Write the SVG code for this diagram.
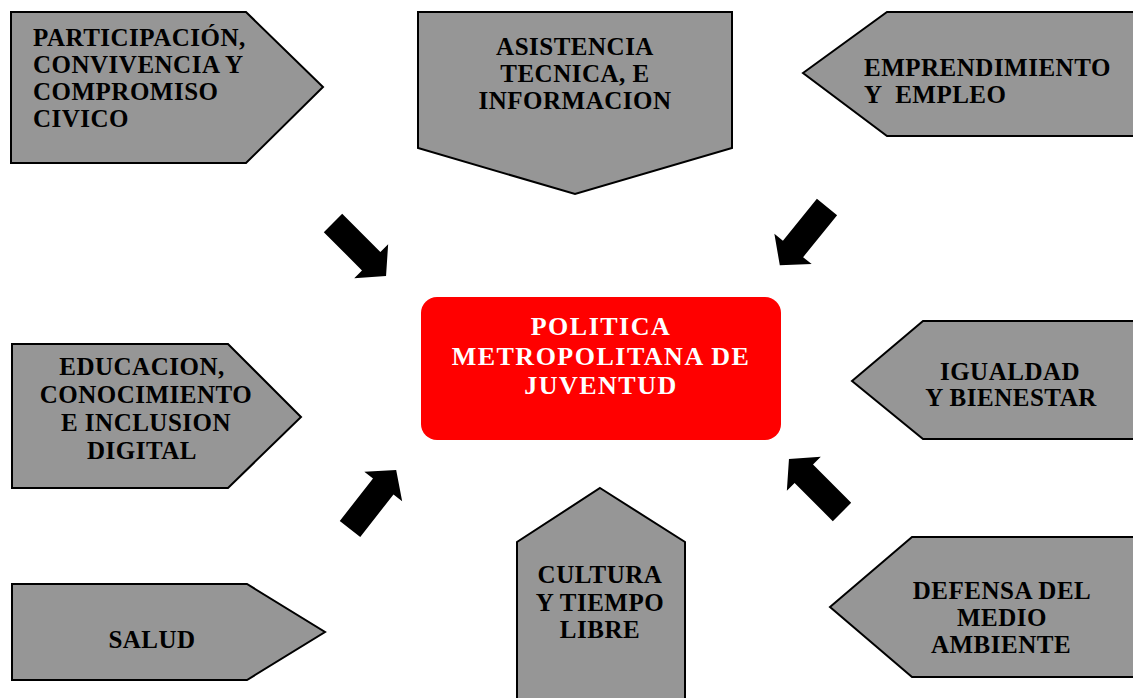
<svg xmlns="http://www.w3.org/2000/svg" width="1133" height="698" viewBox="0 0 1133 698">
<style>
.box{fill:#969696;stroke:#000;stroke-width:2;stroke-linejoin:miter}
.t{font-family:"Liberation Serif","Times New Roman",serif;font-weight:bold;font-size:25px;fill:#000;letter-spacing:0.5px}
.c{text-anchor:middle}
.w{fill:#fff;font-size:26px;letter-spacing:1.5px}
.arr{fill:#000}
</style>
<defs>
<polygon id="blk" points="0,-13 54,-13 54,-24 75,0 54,24 54,13 0,13"/>
</defs>
<rect width="1133" height="698" fill="#fff"/>
<g id="participacion">
<polygon class="box" points="11,12 246,12 323,87 246,163 11,163"/>
<text class="t" x="33" y="46">PARTICIPACIÓN,</text>
<text class="t" x="33" y="73">CONVIVENCIA Y</text>
<text class="t" x="33" y="100">COMPROMISO</text>
<text class="t" x="33" y="127">CIVICO</text>
</g>
<g id="asistencia">
<polygon class="box" points="418,12 732,12 732,148 575,194 418,148"/>
<text class="t c" x="575" y="55">ASISTENCIA</text>
<text class="t c" x="575" y="82">TECNICA, E</text>
<text class="t c" x="575" y="109">INFORMACION</text>
</g>
<g id="emprendimiento">
<polygon class="box" points="803,73 887,12 1140,12 1140,136 887,136"/>
<text class="t" x="864" y="76">EMPRENDIMIENTO</text>
<text class="t" x="864" y="103" style="white-space:pre">Y  EMPLEO</text>
</g>
<g id="politica">
<rect x="421" y="297" width="360" height="143" rx="16" ry="16" fill="#ff0000"/>
<text class="t c w" x="601" y="335">POLITICA</text>
<text class="t c w" x="601" y="365">METROPOLITANA DE</text>
<text class="t c w" x="601" y="394">JUVENTUD</text>
</g>
<g id="educacion">
<polygon class="box" points="12,344 228,344 301,417 228,488 12,488"/>
<text class="t c" x="142" y="375">EDUCACION,</text>
<text class="t c" x="146" y="403">CONOCIMIENTO</text>
<text class="t c" x="146" y="431">E INCLUSION</text>
<text class="t c" x="142" y="459">DIGITAL</text>
</g>
<g id="igualdad">
<polygon class="box" points="852,381 923,321 1140,321 1140,439 923,439"/>
<text class="t c" x="1010" y="380">IGUALDAD</text>
<text class="t c" x="1011" y="406">Y BIENESTAR</text>
</g>
<g id="salud">
<polygon class="box" points="12,584 247,584 325,632 247,680 12,680"/>
<text class="t c" x="152" y="648">SALUD</text>
</g>
<g id="cultura">
<polygon class="box" points="600,488 685,542 685,705 517,705 517,542"/>
<text class="t c" x="600" y="583">CULTURA</text>
<text class="t c" x="600" y="611">Y TIEMPO</text>
<text class="t c" x="600" y="638">LIBRE</text>
</g>
<g id="defensa">
<polygon class="box" points="830,607 912,537 1140,537 1140,677 912,677"/>
<text class="t c" x="1002" y="599">DEFENSA DEL</text>
<text class="t c" x="1002" y="626">MEDIO</text>
<text class="t c" x="1001" y="653">AMBIENTE</text>
</g>
<g id="connectors">
<use href="#blk" class="arr" transform="translate(333,223) rotate(45)"/>
<use href="#blk" class="arr" transform="translate(827,207) rotate(129)"/>
<use href="#blk" class="arr" transform="translate(350,529) rotate(-52)"/>
<use href="#blk" class="arr" transform="translate(842,512) rotate(-135)"/>
</g>
</svg>
